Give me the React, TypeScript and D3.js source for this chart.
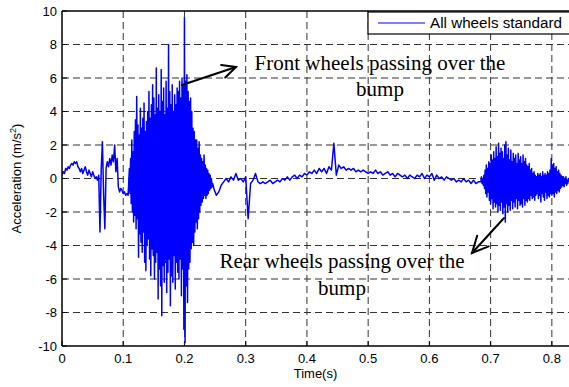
import { useMemo } from 'react';
import * as d3 from 'd3';

// signal pieces, each sampled at a fixed step (s), values in m/s^2
const segA = { start: 0, step: 0.002, values: [
  0.2, 0.4, 0.3, 0.6, 0.5, 0.7, 0.6, 0.8, 0.9, 0.8, 1.0, 0.9, 1.0, 0.7, 0.6, 0.4, 0.6, 0.3, 0.5, 0.7,
  0.4, 0.2, 0.5, 0.3, 0.1, 0.4, 0.2, 0.0, 0.1, -0.1, 0.2, -3.2, 0.5, 2.2, -1.0, -3.0, 0.6, 1.0, 0.7, 1.2,
  0.8, 1.4, 1.0, 2.0, 0.4, 1.2, -0.5, -0.8, -0.6, -0.7, -0.9, -0.8, -1.0, -0.9, -1.0,
] };

// front wheels over the bump
const segB = { start: 0.11, step: 0.001, values: [
  0.6, -0.9, 1.2, -1.5, 2.3, -2.0, 1.6, -2.6, 2.8, -2.2,
  3.5, -3.0, 4.9, -2.4, 3.2, -4.7, 2.6, -3.3, 4.2, -3.8,
  3.0, -4.4, 3.6, -3.2, 4.5, -5.0, 2.8, -5.5, 3.4, -4.0,
  4.0, -3.6, 5.2, -4.8, 3.6, -5.8, 4.4, -4.2, 5.6, -4.6,
  4.8, -6.0, 3.8, -5.0, 6.6, -4.4, 4.2, -7.2, 5.0, -5.4,
  4.0, -6.4, 6.5, -8.2, 4.6, -5.2, 5.4, -6.2, 3.8, -5.0,
  5.8, -6.8, 4.2, -5.6, 8.0, -4.8, 5.2, -7.6, 4.4, -5.8,
  5.6, -6.2, 4.0, -4.6, 5.0, -6.6, 4.4, -5.0, 5.4, -5.6,
  5.2, -6.0, 5.8, -4.8, 4.8, -7.0, 6.0, -5.4, 5.6, -9.0,
  9.6, -9.8, 5.8, -6.4, 6.2, -7.4, 5.2, -5.4, 4.6, -5.0,
  4.8, -4.2, 4.0, -3.8, 3.0, -4.0, 2.8, -3.2, 2.3, -2.6,
  2.3, -3.0, 1.8, -2.4, 2.2, -2.0, 1.4, -1.6, 1.2, -1.4,
  1.0, -1.2, 1.4, -1.0, 0.8, -1.2, 0.6, -1.0, 0.5, -0.9,
  0.3, -0.7, 0.2, -0.6, 0.0, -0.5, -0.3,
] };

const segC = { start: 0.248, step: 0.004, values: [
  -0.6, -1.0, -0.8, -0.4, -0.2, 0.0, -0.2, 0.1, -0.1, 0.3,
  -0.1, 0.0, -0.2, 0.1, -2.4, -0.3, -0.1, 0.3, -0.2, -0.3,
  -0.2, -0.3, -0.2, -0.1, -0.3, -0.2, -0.1, -0.2, 0.0, -0.1,
  0.1, -0.1, 0.1, 0.2, 0.0, 0.2, 0.1, 0.3, 0.2, 0.4,
  0.3, 0.5, 0.3, 0.6, 0.4, 0.6, 0.3, 0.7, 0.5, 2.1,
  0.2, 0.8, 0.6, 0.7, 0.5, 0.6, 0.5, 0.6, 0.4, 0.5,
  0.4, 0.5, 0.4, 0.3, 0.4, 0.3, 0.5, 0.3, 0.4, 0.2,
  0.3, 0.4, 0.2, 0.3, 0.1, 0.3, 0.2, 0.1, 0.2, 0.0,
  0.2, 0.1, 0.0, 0.2, 0.1, 0.3, 0.0, 0.2, 0.1, 0.3,
  -0.1, 0.2, 0.0, 0.1, -0.1, 0.1, 0.0, -0.1, 0.0, -0.2,
  -0.1, -0.2, 0.0, -0.2, -0.1, -0.3, -0.1, -0.3, -0.2,
] };

// rear wheels over the bump
const segD = { start: 0.684, step: 0.001, values: [
  -0.2, 0.1, -0.3, 0.0, -0.4, 0.2,
  -0.6, 0.5, -0.9, 0.8, -1.1, 0.6, -0.8, 1.0, -1.3, 0.9,
  -1.5, 1.4, -1.2, 1.1, -1.8, 1.6, -1.4, 1.2, -1.7, 1.9,
  -1.5, 1.3, -2.0, 2.1, -1.6, 1.5, -1.9, 1.8, -1.4, 1.6,
  -2.1, 1.2, -1.7, 2.0, -2.6, 2.2, -1.5, 1.4, -2.0, 1.8,
  -1.6, 1.1, -1.9, 1.7, -1.3, 1.0, -1.8, 1.5, -1.4, 1.2,
  -1.7, 1.4, -1.2, 0.9, -1.8, 1.5, -1.3, 1.1, -1.6, 1.3,
  -1.5, 0.9, -1.7, 1.4, -1.2, 1.0, -1.6, 1.2, -1.3, 0.8,
  -1.4, 0.7, -1.2, 0.9, -1.3, 0.5, -1.0, 0.6, -1.2, 0.3,
  -1.1, 0.4, -1.3, 0.2, -1.0, 0.1, -0.9, 0.3, -1.2, 0.2,
  -1.0, 0.3, -1.4, 0.1, -0.9, 0.4, -1.1, 0.2, -1.3, 0.3,
  -0.8, 0.2, -1.2, 0.4, -1.0, 0.3, -1.1, 0.5, -0.9, 1.2,
  -1.0, 0.8, -0.9, 0.9, -1.1, 0.6, -0.8, 0.7, -0.9, 0.4,
  -0.7, 0.5, -0.8, 0.3, -0.6, 0.2, -0.5, 0.1, -0.4, 0.1,
  -0.5, 0.0, -0.3, 0.1, -0.4, -0.1, -0.3, 0.0, -0.2,
] };

const xTicks = [0, 0.1, 0.2, 0.3, 0.4, 0.5, 0.6, 0.7, 0.8];
const yTicks = [-10, -8, -6, -4, -2, 0, 2, 4, 6, 8, 10];

const W = 569;
const H = 387;
const sans = 'Arial, "Liberation Sans", Helvetica, sans-serif';
const serif = '"Times New Roman", "Liberation Serif", serif';

function Arrow({ x1, y1, x2, y2, head }: { x1: number; y1: number; x2: number; y2: number; head: number }) {
  const a = Math.atan2(y2 - y1, x2 - x1);
  const spread = 0.45;
  const p1 = [x2 - head * Math.cos(a - spread), y2 - head * Math.sin(a - spread)];
  const p2 = [x2 - head * Math.cos(a + spread), y2 - head * Math.sin(a + spread)];
  return (
    <g stroke="#000" strokeWidth={2} fill="none" strokeLinecap="round">
      <line x1={x1} y1={y1} x2={x2} y2={y2} />
      <polyline points={`${p1[0]},${p1[1]} ${x2},${y2} ${p2[0]},${p2[1]}`} />
    </g>
  );
}

export default function App() {
  const x = d3.scaleLinear().domain([0, 0.828]).range([62, W]);
  const y = d3.scaleLinear().domain([-10, 10]).range([346, 11]);

  const points = useMemo(() => {
    const out: [number, number][] = [];
    [segA, segB, segC, segD].forEach(s => {
      s.values.forEach((v, i) => out.push([s.start + i * s.step, v]));
    });
    return out;
  }, []);

  const line = d3.line<[number, number]>()
    .x(d => x(d[0]))
    .y(d => y(d[1]));

  const left = x(0);
  const bottom = y(-10);
  const top = y(10);

  return (
    <svg width={W} height={H} style={{ position: 'absolute', left: 0, top: 0, background: '#fff' }}>
      <defs>
        <clipPath id="plot">
          <rect x={left} y={top} width={W - left} height={bottom - top} />
        </clipPath>
      </defs>

      {/* grid */}
      <g stroke="#333" strokeWidth={1} strokeDasharray="7,4">
        {xTicks.filter(t => t > 0).map(t => (
          <line key={'gx' + t} x1={x(t)} x2={x(t)} y1={top} y2={bottom} />
        ))}
        {yTicks.filter(t => t > -10 && t < 10).map(t => (
          <line key={'gy' + t} x1={left} x2={W} y1={y(t)} y2={y(t)} />
        ))}
      </g>

      <path d={line(points) || ''} fill="none" stroke="#0000ff" strokeWidth={1.5} strokeLinejoin="round" clipPath="url(#plot)" />

      {/* axes box */}
      <g stroke="#000" strokeWidth={1.5}>
        <line x1={left} x2={W} y1={top} y2={top} />
        <line x1={left} x2={W} y1={bottom} y2={bottom} />
        <line x1={left} x2={left} y1={top} y2={bottom} />
        {yTicks.map(t => (
          <line key={'ty' + t} x1={left} x2={left + 5} y1={y(t)} y2={y(t)} strokeWidth={1} />
        ))}
        {xTicks.map(t => (
          <line key={'tx' + t} x1={x(t)} x2={x(t)} y1={bottom} y2={bottom - 5} strokeWidth={1} />
        ))}
      </g>

      <g fontFamily={sans} fontSize={13} fill="#000">
        {yTicks.map(t => (
          <text key={'ly' + t} x={left - 5} y={y(t)} dy="0.35em" textAnchor="end">{t}</text>
        ))}
        {xTicks.map(t => (
          <text key={'lx' + t} x={x(t)} y={bottom + 17} textAnchor="middle">{t}</text>
        ))}
        <text x={(left + W) / 2} y={378} textAnchor="middle">Time(s)</text>
        <text transform={`translate(21,${y(0)}) rotate(-90)`} textAnchor="middle" fontSize={13}>
          Acceleration (m/s<tspan dy="-5" fontSize={9}>2</tspan><tspan dy="5">)</tspan>
        </text>
      </g>

      {/* legend */}
      <rect x={368} y={12} width={W - 368 + 2} height={22} fill="#fff" stroke="#000" strokeWidth={1.2} />
      <line x1={378} x2={425} y1={23} y2={23} stroke="#0000ff" strokeWidth={1} />
      <text x={430} y={28} fontFamily={sans} fontSize={14} textLength={132} lengthAdjust="spacingAndGlyphs">All wheels standard</text>

      {/* annotations */}
      <g fontFamily={serif} fontSize={21} fill="#000" textAnchor="middle">
        <text x={380} y={70}>Front wheels passing over the</text>
        <text x={380} y={96}>bump</text>
        <text x={342} y={268}>Rear wheels passing over the</text>
        <text x={342} y={295}>bump</text>
      </g>
      <Arrow x1={182} y1={85} x2={236} y2={67} head={15} />
      <Arrow x1={504} y1={218} x2={472} y2={253} head={18} />
    </svg>
  );
}
